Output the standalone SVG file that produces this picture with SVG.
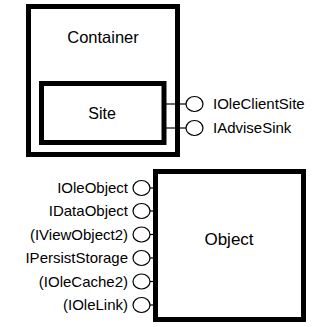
<svg xmlns="http://www.w3.org/2000/svg" width="320" height="327" viewBox="0 0 320 327">
<style>
.box{fill:none;stroke:#000;stroke-width:5}
.ln{stroke:#000;stroke-width:1.2}
.lol{fill:#fff;stroke:#000;stroke-width:1.2}
text{font-family:"Liberation Sans",Arial,sans-serif;fill:#000}
.t{font-size:15px}
.l{font-size:15px;text-anchor:end}
.big{font-size:16.5px;text-anchor:middle}
</style>
<rect width="320" height="327" fill="#fff"/>
<g id="container">
<rect class="box" x="28.5" y="6.5" width="149" height="148"/>
<text class="big" x="103" y="43">Container</text>
</g>
<g id="site">
<rect class="box" x="41.5" y="83.5" width="122.5" height="59"/>
<text class="big" x="102" y="118.5" style="font-size:16px">Site</text>
</g>
<g id="object">
<rect class="box" x="155.5" y="171.5" width="148" height="148"/>
<text class="big" x="229" y="245" style="font-size:17px">Object</text>
</g>
<g id="connectors">
<line class="ln" x1="166" y1="104" x2="186" y2="104"/>
<line class="ln" x1="166" y1="128" x2="186" y2="128"/>
<line class="ln" x1="150" y1="188" x2="154" y2="188"/>
<line class="ln" x1="150" y1="211" x2="154" y2="211"/>
<line class="ln" x1="150" y1="234.5" x2="154" y2="234.5"/>
<line class="ln" x1="150" y1="258" x2="154" y2="258"/>
<line class="ln" x1="150" y1="281.5" x2="154" y2="281.5"/>
<line class="ln" x1="150" y1="305" x2="154" y2="305"/>
</g>
<g id="iOleClientSite"><ellipse class="lol" cx="194.5" cy="104" rx="8.5" ry="7.5"/><text class="t" x="213" y="109">IOleClientSite</text></g>
<g id="iAdviseSink"><ellipse class="lol" cx="194.5" cy="128" rx="8.5" ry="7.5"/><text class="t" x="213" y="133">IAdviseSink</text></g>
<g id="iOleObject"><ellipse class="lol" cx="141.5" cy="188" rx="8.5" ry="7.5"/><text class="l" x="128" y="193">IOleObject</text></g>
<g id="iDataObject"><ellipse class="lol" cx="141.5" cy="211" rx="8.5" ry="7.5"/><text class="l" x="128" y="216">IDataObject</text></g>
<g id="iViewObject2"><ellipse class="lol" cx="141.5" cy="234.5" rx="8.5" ry="7.5"/><text class="l" x="128" y="239.5">(IViewObject2)</text></g>
<g id="iPersistStorage"><ellipse class="lol" cx="141.5" cy="258" rx="8.5" ry="7.5"/><text class="l" x="128" y="263">IPersistStorage</text></g>
<g id="iOleCache2"><ellipse class="lol" cx="141.5" cy="281.5" rx="8.5" ry="7.5"/><text class="l" x="128" y="286.5">(IOleCache2)</text></g>
<g id="iOleLink"><ellipse class="lol" cx="141.5" cy="305" rx="8.5" ry="7.5"/><text class="l" x="128" y="310">(IOleLink)</text></g>
</svg>
